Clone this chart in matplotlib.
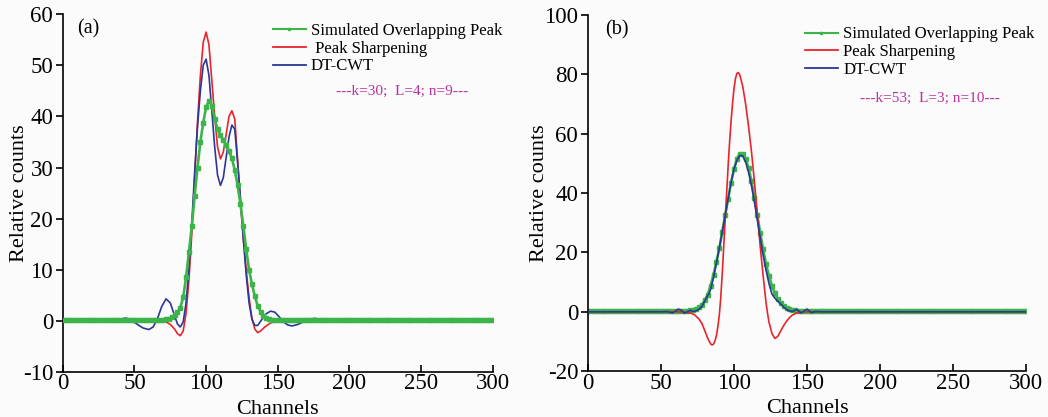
import matplotlib
matplotlib.use("Agg")
import matplotlib.pyplot as plt

plt.rcParams['font.family'] = ['Liberation Serif', 'DejaVu Serif']
plt.rcParams['axes.unicode_minus'] = False

# ---------------- Panel (a) data ----------------
green_a_ch = list(range(0, 301, 2))
green_a_val = ([0.2] * 33 +
               [0.2, 0.22, 0.25, 0.3, 0.45, 0.7, 1.1, 1.7, 2.6, 4.6,
                8.5, 13.5, 18.5, 24.5, 30, 35, 38.8, 41.8, 43.1, 42,
                39.5, 37.5, 36.3, 35.3, 34.4, 33.3, 31.8, 29.5, 26.5, 22.8,
                18.5, 14, 10, 7.2, 4.8, 3.0, 1.8, 1.0, 0.6, 0.35, 0.25] +
               [0.2] * 77)

red_a_ch = [0, 60, 70, 72, 75, 78, 80, 82, 84, 86,
            88, 90, 92, 94, 96, 98, 100, 102, 104, 106,
            108, 110, 112, 114, 116, 118, 120, 122, 124, 126,
            128, 130, 132, 134, 136, 138, 141, 145, 150, 300]
red_a_val = [0.1, 0.1, 0, -0.2, -0.7, -1.6, -2.5, -2.9, -2.0, 1.5,
             8, 17, 28, 39, 48, 54.5, 56.5, 54, 47, 40,
             34, 31.7, 33, 36.5, 40, 41.1, 39.5, 31.5, 23, 16,
             10, 4.5, 0.5, -1.6, -2.3, -2.0, -1.2, -0.4, 0, 0]

blue_a_ch = [0, 15, 20, 23, 27, 32, 37, 41, 44, 48,
             52, 56, 60, 63, 66, 69, 72, 75, 78, 80,
             82, 84, 86, 88, 90, 92, 94, 96, 98, 100,
             102, 104, 106, 108, 110, 112, 114, 116, 118, 120,
             122, 124, 126, 128, 130, 132, 134, 136, 139, 142,
             145, 148, 151, 154, 157, 160, 164, 168, 172, 176,
             180, 184, 300]
blue_a_val = [0.1, 0.1, -0.1, -0.2, 0.1, 0.4, 0.1, 0.4, 0.55, 0.1,
              -0.7, -1.4, -1.7, -1.2, 0.4, 2.8, 4.3, 3.5, 1.0, -0.6,
              -1.2, -0.2, 3.5, 10, 19, 29, 38, 45, 50, 51.2,
              48, 41, 34, 28.5, 26.5, 28, 32, 36, 38.3, 37.5,
              31, 24, 16, 9, 3.5, 0.3, -0.9, -0.9, 0.3, 1.4,
              1.9, 1.7, 0.8, -0.2, -0.8, -1.0, -0.7, -0.2, 0.3, 0.5,
              0.2, 0, 0]

# ---------------- Panel (b) data ----------------
green_b_ch = list(range(0, 301, 2))
green_b_val = ([0.3] * 35 +
               [0.5, 0.7, 1.0, 1.5, 2.4, 3.8, 5.8, 8.8, 12.5, 16.8,
                21.5, 27, 32.5, 38, 43.5, 48, 51.5, 53.3, 53.2, 51.5,
                48.5, 44, 38.5, 32.5, 26.5, 21, 16, 12, 8.8, 6.3,
                4.4, 3.0, 2.0, 1.4, 1.0, 0.7, 0.5] +
               [0.3] * 79)

red_b_ch = [0, 60, 66, 70, 73, 76, 78, 80, 82, 84,
            85, 86, 87, 88, 89, 90, 91, 92, 93, 94,
            95, 96, 97, 98, 99, 100, 101, 102, 103, 104,
            106, 108, 110, 112, 114, 116, 118, 120, 122, 123,
            124, 126, 128, 130, 132, 134, 136, 138, 140, 143,
            147, 150, 300]
red_b_val = [0, 0, -0.1, -0.4, -1.0, -2.4, -3.9, -6.3, -8.9, -10.8,
             -11.2, -10.9, -9.8, -8, -5, -1, 5, 13, 22, 31,
             40, 49, 57, 64, 70, 75, 78.5, 80.3, 80.6, 79.8,
             76, 70, 62.5, 54, 44, 33, 22, 12, 3, -0.5,
             -3.5, -7.3, -9, -8.3, -6.5, -4.7, -3.2, -2, -1.1, -0.4,
             -0.1, 0, 0]

blue_b_ch = [0, 50, 54, 58, 62, 64, 66, 68, 70, 72,
             74, 76, 78, 80, 82, 83, 84, 86, 88, 90,
             92, 94, 96, 98, 100, 102, 104, 106, 108, 110,
             112, 114, 116, 118, 120, 122, 124, 126, 128, 130,
             132, 134, 136, 138, 140, 143, 146, 150, 153, 156,
             160, 300]
blue_b_val = [0, 0, 0.1, -0.4, 0.9, 0.5, -0.5, 0, 0.5, 0.1,
              0.3, 0.8, 1.8, 3.6, 5.5, 6.2, 7.5, 11.5, 16.5, 21.5,
              27, 32.5, 38, 43.5, 48, 51, 52.7, 52.5, 50.5, 47,
              42.5, 37, 31, 25, 19, 14, 9.5, 6, 4.6, 3.6,
              2.6, 1.6, 0.8, 0.3, 0.1, 0.8, -0.4, 0.9, -0.3, 0.1,
              0, 0]

labels = ["Simulated Overlapping Peak", " Peak Sharpening", "DT-CWT"]
labels_b = ["Simulated Overlapping Peak", "Peak Sharpening", "DT-CWT"]
panel_tags = ["(a)", "(b)"]
params = ["---k=30;  L=4; n=9---", "---k=53;  L=3; n=10---"]
ylims = [(-10, 60), (-20, 100)]
yticks = [list(range(-10, 61, 10)), list(range(-20, 101, 20))]
xticks = list(range(0, 301, 50))

GREEN = '#3cb44a'
RED = '#e8242c'
BLUE = '#2a3897'
MAG = '#b8329e'
BG = '#fbfbfb'

fig = plt.figure(figsize=(10.48, 4.17), dpi=100, facecolor=BG)
ax_a = fig.add_axes([0.060, 0.108, 0.410, 0.858])
ax_b = fig.add_axes([0.561, 0.110, 0.418, 0.854])

data = [
    (ax_a, green_a_ch, green_a_val, red_a_ch, red_a_val, blue_a_ch, blue_a_val, labels),
    (ax_b, green_b_ch, green_b_val, red_b_ch, red_b_val, blue_b_ch, blue_b_val, labels_b),
]

legend_pos = [(0.488, 0.975), (0.495, 0.968)]
tag_pos = [(0.058, 0.958), (0.066, 0.958)]
param_pos = [(0.79, 0.785), (0.78, 0.765)]
ylabel_x = [-0.100, -0.110]
zorders = [(3, 2, 2), (2, 3, 4)]   # green, red, blue

for i, (ax, gx, gy, rx, ry, bx, by, labs) in enumerate(data):
    zg, zr, zb = zorders[i]
    ax.set_facecolor(BG)
    lg, = ax.plot(gx, gy, color=GREEN, lw=1.9, marker='s', ms=2.3,
                  mec=GREEN, mfc=GREEN, zorder=zg)
    lr, = ax.plot(rx, ry, color=RED, lw=1.2, zorder=zr)
    lb, = ax.plot(bx, by, color=BLUE, lw=1.2, zorder=zb)
    ax.set_xlim(0, 300)
    ax.set_ylim(*ylims[i])
    ax.set_xticks(xticks)
    ax.set_yticks(yticks[i])
    for s in ['top', 'right']:
        ax.spines[s].set_visible(False)
    for s in ['left', 'bottom']:
        ax.spines[s].set_linewidth(1.2)
    ax.tick_params(axis='y', direction='out', length=5, width=1.2,
                   labelsize=16.5, pad=2)
    ax.tick_params(axis='x', direction='in', length=5, width=1.2,
                   labelsize=16.5, pad=1)
    ax.set_xlabel("Channels", fontsize=16, va='center')
    ax.xaxis.set_label_coords(0.5, -0.105)
    ax.set_ylabel("Relative counts", fontsize=16, va='center')
    ax.yaxis.set_label_coords(ylabel_x[i], 0.5)

    leg = ax.legend([lg, lr, lb], labs, loc='upper left',
                    bbox_to_anchor=legend_pos[i], frameon=False,
                    fontsize=12, handlelength=2.0, handletextpad=0.3,
                    labelspacing=0.1, borderpad=0, borderaxespad=0,
                    markerscale=0.9)
    for h in leg.legend_handles:
        h.set_linewidth(1.3)
    leg.legend_handles[0].set_linewidth(1.5)

    ax.text(*tag_pos[i], panel_tags[i], transform=ax.transAxes,
            fontsize=14.5, ha='center', va='center')
    ax.text(*param_pos[i], params[i], transform=ax.transAxes,
            fontsize=11, color=MAG, ha='center', va='center')

fig.savefig("out.png", dpi=100, facecolor=BG)
